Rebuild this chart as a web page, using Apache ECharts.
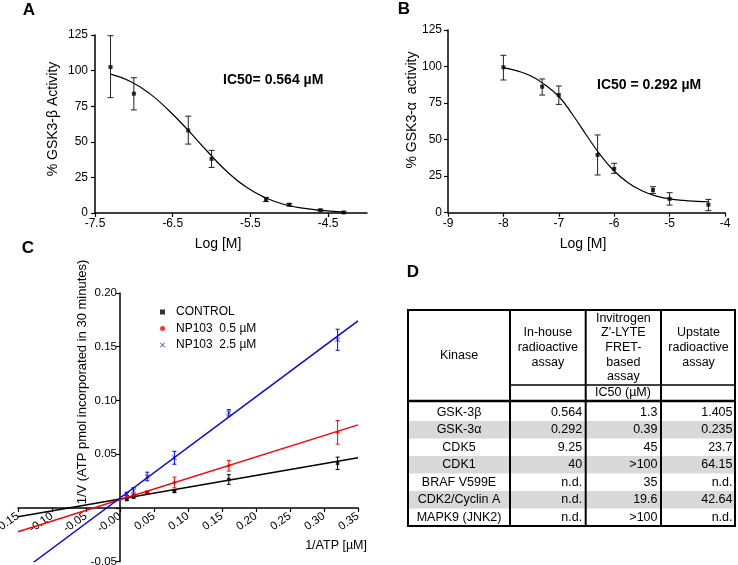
<!DOCTYPE html>
<html>
<head>
<meta charset="utf-8">
<script src="https://cdn.jsdelivr.net/npm/echarts@6/dist/echarts.min.js"></script>
<style>
html,body{margin:0;padding:0;background:#fff;}
#chart{width:738px;height:565px;}
</style>
</head>
<body>
<div id="chart"></div>
<script>
// ---------- Panel A data (GSK-3β) ----------
const doseA = [-7.3, -7.0, -6.3, -6.0, -5.3, -5.0, -4.6, -4.3];
const activityA = [102.5, 83.8, 58.0, 38.0, 9.5, 5.8, 2.0, 0.4];
const errLowA = [81, 72.4, 48.4, 32, 8, 5, 1.5, 0];
const errHighA = [124.5, 95, 68, 44, 11, 6.6, 2.5, 0.8];
const curveXA = [-7.3, -7.05, -6.8, -6.55, -6.3, -6.05, -5.8, -5.55, -5.3, -5.05, -4.8, -4.55, -4.3];
const curveYA = [97.5, 92.5, 84, 72, 58, 43, 29, 18, 10.5, 5.8, 3.2, 1.6, 0.6];
const tickLabelsXA = [-7.5, -6.5, -5.5, -4.5];

// ---------- Panel B data (GSK-3α) ----------
const doseB = [-8, -7.3, -7, -6.3, -6, -5.3, -5, -4.3];
const activityB = [99.5, 86.2, 80.5, 39.5, 30, 15.5, 9.5, 5.5];
const errLowB = [90.8, 80.5, 74.1, 25.8, 26.9, 13.2, 5.2, 1.4];
const errHighB = [107.7, 91.5, 86.7, 53.2, 33.8, 17.8, 13.7, 9.1];
const curveXB = [-8, -7.75, -7.5, -7.25, -7, -6.75, -6.5, -6.25, -6, -5.75, -5.5, -5.25, -5, -4.75, -4.5, -4.3];
const curveYB = [99.2, 97, 93.5, 87.5, 79.5, 67, 53, 39.5, 28.5, 20.5, 15, 11.5, 9.5, 8.4, 7.8, 7.5];

// ---------- Panel C data (Lineweaver-Burk) ----------
const invATP = [0.01, 0.02, 0.04, 0.08, 0.16, 0.32];
const ctrlV = [0.0078, 0.0100, 0.0137, 0.0153, 0.0265, 0.0415];
const ctrlErr = [0.0008, 0.0008, 0.0008, 0.0008, 0.0045, 0.0058];
const np05V = [0.0105, 0.0120, 0.0146, 0.0237, 0.0393, 0.0704];
const np05Err = [0.0008, 0.001, 0.0012, 0.005, 0.005, 0.011];
const np25V = [0.0131, 0.0159, 0.0293, 0.0467, 0.0885, 0.1565];
const np25Err = [0.0015, 0.003, 0.004, 0.006, 0.003, 0.0098];
const ctrlFitX = [-0.15, 0.35];
const ctrlFitY = [-0.0081, 0.0467];
const np05FitX = [-0.15, 0.35];
const np05FitY = [-0.0221, 0.0773];
const np25FitX = [-0.127, 0.35];
const np25FitY = [-0.0505, 0.174];
const cXTickLabels = ['-0.15','-0.10','-0.05','-0.00','0.05','0.10','0.15','0.20','0.25','0.30','0.35'];
const cYTickLabels = ['-0.05','','0.05','0.10','0.15','0.20'];
const seriesNames = ['CONTROL', 'NP103  0.5 µM', 'NP103  2.5 µM'];

// ---------- Panel D table data ----------
const tableHeaders = ['Kinase', 'In-house\nradioactive\nassay', "Invitrogen\nZ'-LYTE\nFRET-\nbased\nassay", 'Upstate\nradioactive\nassay'];
const tableSubHeader = 'IC50 (µM)';
const tableKinases = ['GSK-3β', 'GSK-3α', 'CDK5', 'CDK1', 'BRAF V599E', 'CDK2/Cyclin A', 'MAPK9 (JNK2)'];
const tableInHouse = ['0.564', '0.292', '9.25', '40', 'n.d.', 'n.d.', 'n.d.'];
const tableInvitrogen = ['1.3', '0.39', '45', '>100', '35', '19.6', '>100'];
const tableUpstate = ['1.405', '0.235', '23.7', '64.15', 'n.d.', '42.64', 'n.d.'];

// ---------- helpers ----------
const FF = 'Liberation Sans, Arial, Helvetica, sans-serif';
const zip = (a, b) => a.map((v, i) => [v, b[i]]);
const zip3 = (a, b, c) => a.map((v, i) => [v, b[i], c[i]]);
const X_ICON = 'path://M0,1L1,0L5,4L9,0L10,1L6,5L10,9L9,10L5,6L1,10L0,9L4,5Z';

function errorBarSeries(data, xi, yi, color, capW, lw) {
  return {
    type: 'custom', xAxisIndex: xi, yAxisIndex: yi, data: data,
    encode: { x: 0, y: [1, 2] }, silent: true, z: 3,
    renderItem: function (params, api) {
      const x = api.value(0), lo = api.value(1), hi = api.value(2);
      const p1 = api.coord([x, lo]), p2 = api.coord([x, hi]);
      const st = { stroke: color, lineWidth: lw };
      return {
        type: 'group', children: [
          { type: 'line', shape: { x1: p1[0], y1: p1[1], x2: p2[0], y2: p2[1] }, style: st },
          { type: 'line', shape: { x1: p1[0] - capW / 2, y1: p1[1], x2: p1[0] + capW / 2, y2: p1[1] }, style: st },
          { type: 'line', shape: { x1: p2[0] - capW / 2, y1: p2[1], x2: p2[0] + capW / 2, y2: p2[1] }, style: st }
        ]
      };
    }
  };
}

// grid layout (pixels)
const gridA = { left: 95, right: 371, top: 35, bottom: 352 };
const gridB = { left: 448, right: 13, top: 30, bottom: 352.3 };
const gridC = { left: 18, right: 380, top: 293, bottom: 3.3 };
const W = 738, H = 565;
const cXMin = -0.15, cXMax = 0.35, cYMin = -0.05, cYMax = 0.2;
// place C axes through zero (offset from default position)
const cW = W - gridC.left - gridC.right, cH = H - gridC.top - gridC.bottom;
const cXOffset = -cH * (0 - cYMin) / (cYMax - cYMin);
const cYOffset = -cW * (0 - cXMin) / (cXMax - cXMin);

const axisLineStyle = { show: true, onZero: false, lineStyle: { color: '#000', width: 1.5 } };
const tickStyle = { show: true, length: 4, lineStyle: { color: '#000', width: 1.2 } };
const labelBase = { color: '#000', fontSize: 12, fontFamily: FF };

const xAxes = [
  { gridIndex: 0, type: 'value', min: -7.5, max: -4, interval: 0.5,
    axisLine: axisLineStyle, axisTick: Object.assign({ customValues: tickLabelsXA }, tickStyle),
    axisLabel: Object.assign({ customValues: tickLabelsXA, margin: 5, formatter: v => String(v) }, labelBase),
    splitLine: { show: false } },
  { gridIndex: 1, type: 'value', min: -9, max: -4, interval: 1,
    axisLine: axisLineStyle, axisTick: tickStyle,
    axisLabel: Object.assign({ margin: 5 }, labelBase),
    splitLine: { show: false } },
  { gridIndex: 2, type: 'value', min: cXMin, max: cXMax, interval: 0.05, position: 'bottom', offset: cXOffset,
    axisLine: axisLineStyle, axisTick: tickStyle,
    axisLabel: Object.assign({}, labelBase, { fontSize: 11.5, rotate: 35, margin: 7,
      formatter: v => cXTickLabels[Math.round((v - cXMin) / 0.05)] }),
    splitLine: { show: false } }
];
const yAxes = [
  { gridIndex: 0, type: 'value', min: 0, max: 125, interval: 25,
    axisLine: axisLineStyle, axisTick: tickStyle,
    axisLabel: Object.assign({ margin: 7 }, labelBase), splitLine: { show: false } },
  { gridIndex: 1, type: 'value', min: 0, max: 125, interval: 25,
    axisLine: axisLineStyle, axisTick: tickStyle,
    axisLabel: Object.assign({ margin: 6 }, labelBase), splitLine: { show: false } },
  { gridIndex: 2, type: 'value', min: cYMin, max: cYMax, interval: 0.05, position: 'left', offset: cYOffset,
    axisLine: axisLineStyle, axisTick: tickStyle,
    axisLabel: Object.assign({}, labelBase, { fontSize: 11.5, margin: 3,
      formatter: v => cYTickLabels[Math.round((v - cYMin) / 0.05)] }),
    splitLine: { show: false } }
];

const series = [
  // Panel A
  { type: 'line', xAxisIndex: 0, yAxisIndex: 0, data: zip(curveXA, curveYA), smooth: true,
    symbol: 'none', lineStyle: { color: '#000', width: 1.2 }, silent: true, z: 2 },
  errorBarSeries(zip3(doseA, errLowA, errHighA), 0, 0, '#222', 6, 1),
  { type: 'scatter', xAxisIndex: 0, yAxisIndex: 0, data: zip(doseA, activityA), symbol: 'rect', symbolSize: 4,
    itemStyle: { color: '#000' }, z: 4 },
  // Panel B
  { type: 'line', xAxisIndex: 1, yAxisIndex: 1, data: zip(curveXB, curveYB), smooth: true,
    symbol: 'none', lineStyle: { color: '#000', width: 1.2 }, silent: true, z: 2 },
  errorBarSeries(zip3(doseB, errLowB, errHighB), 1, 1, '#222', 6, 1),
  { type: 'scatter', xAxisIndex: 1, yAxisIndex: 1, data: zip(doseB, activityB), symbol: 'rect', symbolSize: 4,
    itemStyle: { color: '#000' }, z: 4 },
  // Panel C fit lines
  { type: 'line', xAxisIndex: 2, yAxisIndex: 2, data: zip(ctrlFitX, ctrlFitY), symbol: 'none',
    lineStyle: { color: '#000', width: 1.5 }, silent: true, z: 2 },
  { type: 'line', xAxisIndex: 2, yAxisIndex: 2, data: zip(np05FitX, np05FitY), symbol: 'none',
    lineStyle: { color: '#ff0000', width: 1.5 }, silent: true, z: 2 },
  { type: 'line', xAxisIndex: 2, yAxisIndex: 2, data: zip(np25FitX, np25FitY), symbol: 'none',
    lineStyle: { color: '#0000ff', width: 1.5 }, silent: true, z: 2 },
  // Panel C error bars
  errorBarSeries(invATP.map((x, i) => [x, ctrlV[i] - ctrlErr[i], ctrlV[i] + ctrlErr[i]]), 2, 2, '#000', 4, 1),
  errorBarSeries(invATP.map((x, i) => [x, np05V[i] - np05Err[i], np05V[i] + np05Err[i]]), 2, 2, '#ff0000', 4, 1),
  errorBarSeries(invATP.map((x, i) => [x, np25V[i] - np25Err[i], np25V[i] + np25Err[i]]), 2, 2, '#0000ff', 4, 1),
  // Panel C points
  { name: seriesNames[0], type: 'scatter', xAxisIndex: 2, yAxisIndex: 2, data: zip(invATP, ctrlV),
    symbol: 'rect', symbolSize: 3.5, itemStyle: { color: '#000' }, z: 4 },
  { name: seriesNames[1], type: 'scatter', xAxisIndex: 2, yAxisIndex: 2, data: zip(invATP, np05V),
    symbol: 'circle', symbolSize: 3.5, itemStyle: { color: '#ff0000' }, z: 4 },
  { name: seriesNames[2], type: 'scatter', xAxisIndex: 2, yAxisIndex: 2, data: zip(invATP, np25V),
    symbol: X_ICON, symbolSize: 5, itemStyle: { color: '#0000ff' }, z: 4 }
];

// ---------- table graphic ----------
function buildTable() {
  const colX = [408, 510, 585.7, 661, 736];
  const top = 310, subTop = 385, dataTop = 403.5, rowH = 17.5;
  const bottom = dataTop + rowH * tableKinases.length;
  const els = [];
  const font = (s, w) => ({ fontSize: s, fontFamily: FF, fontWeight: w || 'normal', fill: '#000' });
  tableKinases.forEach((k, i) => {
    if (i % 2 === 1) {
      els.push({ type: 'rect', shape: { x: colX[0], y: dataTop + rowH * i, width: colX[4] - colX[0], height: rowH },
        style: { fill: '#d9d9d9' } });
    }
  });
  const ln = (x1, y1, x2, y2, w) => ({ type: 'line', shape: { x1, y1, x2, y2 }, style: { stroke: '#000', lineWidth: w } });
  els.push({ type: 'rect', shape: { x: colX[0], y: top, width: colX[4] - colX[0] - 1, height: bottom - top },
    style: { fill: 'none', stroke: '#000', lineWidth: 2 } });
  for (let c = 1; c < 4; c++) els.push(ln(colX[c], top, colX[c], bottom, 2));
  els.push(ln(colX[1], subTop, colX[4] - 1, subTop, 1.5));
  els.push(ln(colX[0], 401, colX[4] - 1, 401, 2.5));
  els.push({ type: 'text', x: (colX[0] + colX[1]) / 2, y: 356, style: Object.assign({ text: tableHeaders[0], align: 'center', verticalAlign: 'middle' }, font(12.5)) });
  for (let c = 1; c < 4; c++) {
    els.push({ type: 'text', x: (colX[c] + colX[c + 1]) / 2, y: 347.5,
      style: Object.assign({ text: tableHeaders[c], align: 'center', verticalAlign: 'middle', lineHeight: 14.7 }, font(12.5)) });
  }
  els.push({ type: 'text', x: (colX[1] + colX[4]) / 2, y: 393, style: Object.assign({ text: tableSubHeader, align: 'center', verticalAlign: 'middle' }, font(12.5)) });
  const cols = [tableInHouse, tableInvitrogen, tableUpstate];
  tableKinases.forEach((k, i) => {
    const cy = dataTop + rowH * i + rowH / 2;
    els.push({ type: 'text', x: (colX[0] + colX[1]) / 2, y: cy, style: Object.assign({ text: k, align: 'center', verticalAlign: 'middle' }, font(12.5)) });
    cols.forEach((col, c) => {
      els.push({ type: 'text', x: colX[c + 2] - 3.5, y: cy, style: Object.assign({ text: col[i], align: 'right', verticalAlign: 'middle' }, font(12.5)) });
    });
  });
  return els;
}

const t = (text, x, y, opts) => Object.assign({ type: 'text', x: x, y: y,
  style: Object.assign({ text: text, fill: '#000', fontFamily: FF, fontSize: 14, align: 'center', verticalAlign: 'middle' }, opts && opts.style || {}) },
  opts && opts.el || {});

const graphics = [
  t('A', 29, 10, { style: { fontSize: 17, fontWeight: 'bold' } }),
  t('B', 404, 9, { style: { fontSize: 17, fontWeight: 'bold' } }),
  t('C', 28, 248, { style: { fontSize: 17, fontWeight: 'bold' } }),
  t('D', 413, 272, { style: { fontSize: 17, fontWeight: 'bold' } }),
  t('IC50= 0.564 µM', 223, 80, { style: { fontSize: 14, fontWeight: 'bold', align: 'left' } }),
  t('IC50 = 0.292 µM', 597, 85, { style: { fontSize: 14, fontWeight: 'bold', align: 'left' } }),
  t('% GSK3-β Activity', 53, 119, { el: { rotation: Math.PI / 2 } }),
  t('% GSK3-α  activity', 412, 110, { el: { rotation: Math.PI / 2 } }),
  t('Log [M]', 218, 244),
  t('Log [M]', 583, 244),
  t('1/V (ATP pmol incorporated in 30 minutes)', 82, 382, { el: { rotation: Math.PI / 2 }, style: { fontSize: 13 } }),
  t('1/ATP [µM]', 367, 546, { style: { fontSize: 12.5, align: 'right' } })
].concat(buildTable());

const gridCommon = { containLabel: false, outerBoundsMode: 'none' };
const chart = echarts.init(document.getElementById('chart'), null, { renderer: 'canvas' });
chart.setOption({
  animation: false,
  backgroundColor: '#fff',
  textStyle: { fontFamily: FF },
  grid: [Object.assign({}, gridCommon, gridA), Object.assign({}, gridCommon, gridB), Object.assign({}, gridCommon, gridC)],
  xAxis: xAxes,
  yAxis: yAxes,
  legend: {
    orient: 'vertical', left: 160, top: 306, padding: 0, itemWidth: 5, itemHeight: 5, itemGap: 4.5,
    data: [{ name: seriesNames[0], icon: 'rect' }, { name: seriesNames[1], icon: 'circle' }, { name: seriesNames[2], icon: X_ICON }],
    textStyle: { fontSize: 12, color: '#000', fontFamily: FF, padding: [0, 0, 0, 6] }
  },
  series: series,
  graphic: graphics
});
</script>
</body>
</html>
